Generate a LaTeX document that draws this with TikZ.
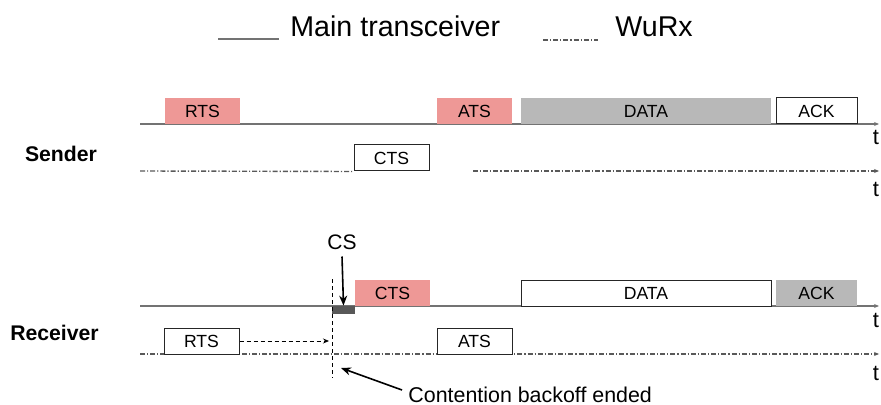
\documentclass[tikz,border=0pt]{standalone}
\usepackage{fontspec}
\setmainfont{Liberation Sans}
\usetikzlibrary{arrows.meta, positioning}
\definecolor{ctrlpink}{RGB}{238,152,150}
\definecolor{datagray}{RGB}{184,184,184}
\definecolor{csgray}{RGB}{88,88,88}

\begin{document}
\begin{tikzpicture}[x=0.5pt, y=-0.5pt,
        pkt/.style={minimum height=13pt, minimum width=37.5pt, inner sep=0pt, font=\fontsize{8.8}{10}\selectfont},
        pinkpkt/.style={pkt, fill=ctrlpink},
        graypkt/.style={pkt, fill=datagray},
        whitepkt/.style={pkt, draw=black!85, line width=0.5pt, fill=white},
        mainline/.style={draw=black!55, line width=0.8pt},
        wurxline/.style={draw=black!65, line width=0.7pt, dash pattern=on 2.5pt off 1pt on 0.6pt off 1pt},
        timearrow/.style={-{Stealth[length=2.5pt,width=2pt]}},
        blackarrow/.style={line width=0.8pt, -{Stealth[length=5pt,width=4pt]}},
        thindash/.style={line width=0.4pt, dash pattern=on 2pt off 1.5pt},
        tlabel/.style={anchor=base, inner sep=0pt, font=\fontsize{11}{13}\selectfont}]
        \useasboundingbox (0,0) rectangle (881,405);

        % legend
        \coordinate (lgMa) at (218,39);
        \coordinate (lgMb) at (279,39);
        \coordinate (lgWa) at (543,40);
        \coordinate (lgWb) at (598,40);
        \draw[mainline] (lgMa)--(lgMb);
        \draw[wurxline] (lgWa)--(lgWb);
        \node[anchor=base west, inner sep=0pt, font=\fontsize{14.3}{17}\selectfont] (lgMain) at (290,37) {Main transceiver};
        \node[anchor=base west, inner sep=0pt, font=\fontsize{14.3}{17}\selectfont] (lgWu) at (615,37) {WuRx};

        % time lines
        \coordinate (sMa) at (140,124);
        \coordinate (sMb) at (879,124);
        \coordinate (sWa) at (140,171);
        \coordinate (sWc) at (473,171);
        \coordinate (sWb) at (879,171);
        \coordinate (rMa) at (140,306);
        \coordinate (rMb) at (879,306);
        \coordinate (rWa) at (140,354);
        \coordinate (rWb) at (879,354);

        \node[whitepkt] (sCTS) at (391.5,158) {CTS};
        \draw[mainline, timearrow] (sMa)--(sMb);
        \draw[wurxline] (sWa)--(sCTS.south west);
        \draw[wurxline, timearrow] (sWc)--(sWb);
        \draw[mainline, timearrow] (rMa)--(rMb);
        \draw[wurxline, timearrow] (rWa)--(rWb);

        % sender
        \node[pinkpkt] (sRTS) at (202.5,111) {RTS};
        \node[pinkpkt] (sATS) at (474.5,111) {ATS};
        \node[graypkt, minimum width=125pt] (sDATA) at (646,111) {DATA};
        \node[whitepkt, minimum width=40.5pt] (sACK) at (816.5,111) {ACK};

        % receiver
        \node[pkt, fill=csgray, minimum width=11.5pt, minimum height=4pt] (rCS) at (343.5,310) {};
        \node[pinkpkt] (rCTS) at (392.5,293) {CTS};
        \node[whitepkt, minimum width=125pt] (rDATA) at (646,293) {DATA};
        \node[graypkt, minimum width=40.5pt] (rACK) at (816.5,293) {ACK};
        \node[whitepkt] (rRTS) at (201.5,341) {RTS};
        \node[whitepkt] (rATS) at (474.5,341) {ATS};

        % carrier sense and backoff
        \coordinate (cbTop) at (332,279);
        \coordinate (cbBot) at (332,378);
        \coordinate (rtsEnd) at (329,341);
        \coordinate (cboTip) at (341,368);
        \draw[thindash] (cbTop)--(cbBot);
        \draw[thindash, -{Stealth[length=3pt,width=2.5pt]}] (rRTS.east)--(rtsEnd);
        \node[font=\fontsize{10.5}{12}\selectfont] (cs) at (342,242) {CS};
        \draw[blackarrow] (cs.south)--(rCS.north);
        \node[anchor=west, inner sep=0pt, font=\fontsize{10.7}{13}\selectfont] (cbo) at (408,395) {Contention backoff ended};
        \draw[blackarrow] ([shift={(-6,-5)}]cbo.west)--(cboTip);

        % labels
        \node[font=\bfseries\fontsize{10.6}{13}\selectfont] (sender) at (61,154) {Sender};
        \node[font=\bfseries\fontsize{10.6}{13}\selectfont] (receiver) at (54.5,333) {Receiver};
        \node[tlabel] (t1) at (876,145) {t};
        \node[tlabel] (t2) at (876,197) {t};
        \node[tlabel] (t3) at (876,327) {t};
        \node[tlabel] (t4) at (876,380) {t};
\end{tikzpicture}
\end{document}
